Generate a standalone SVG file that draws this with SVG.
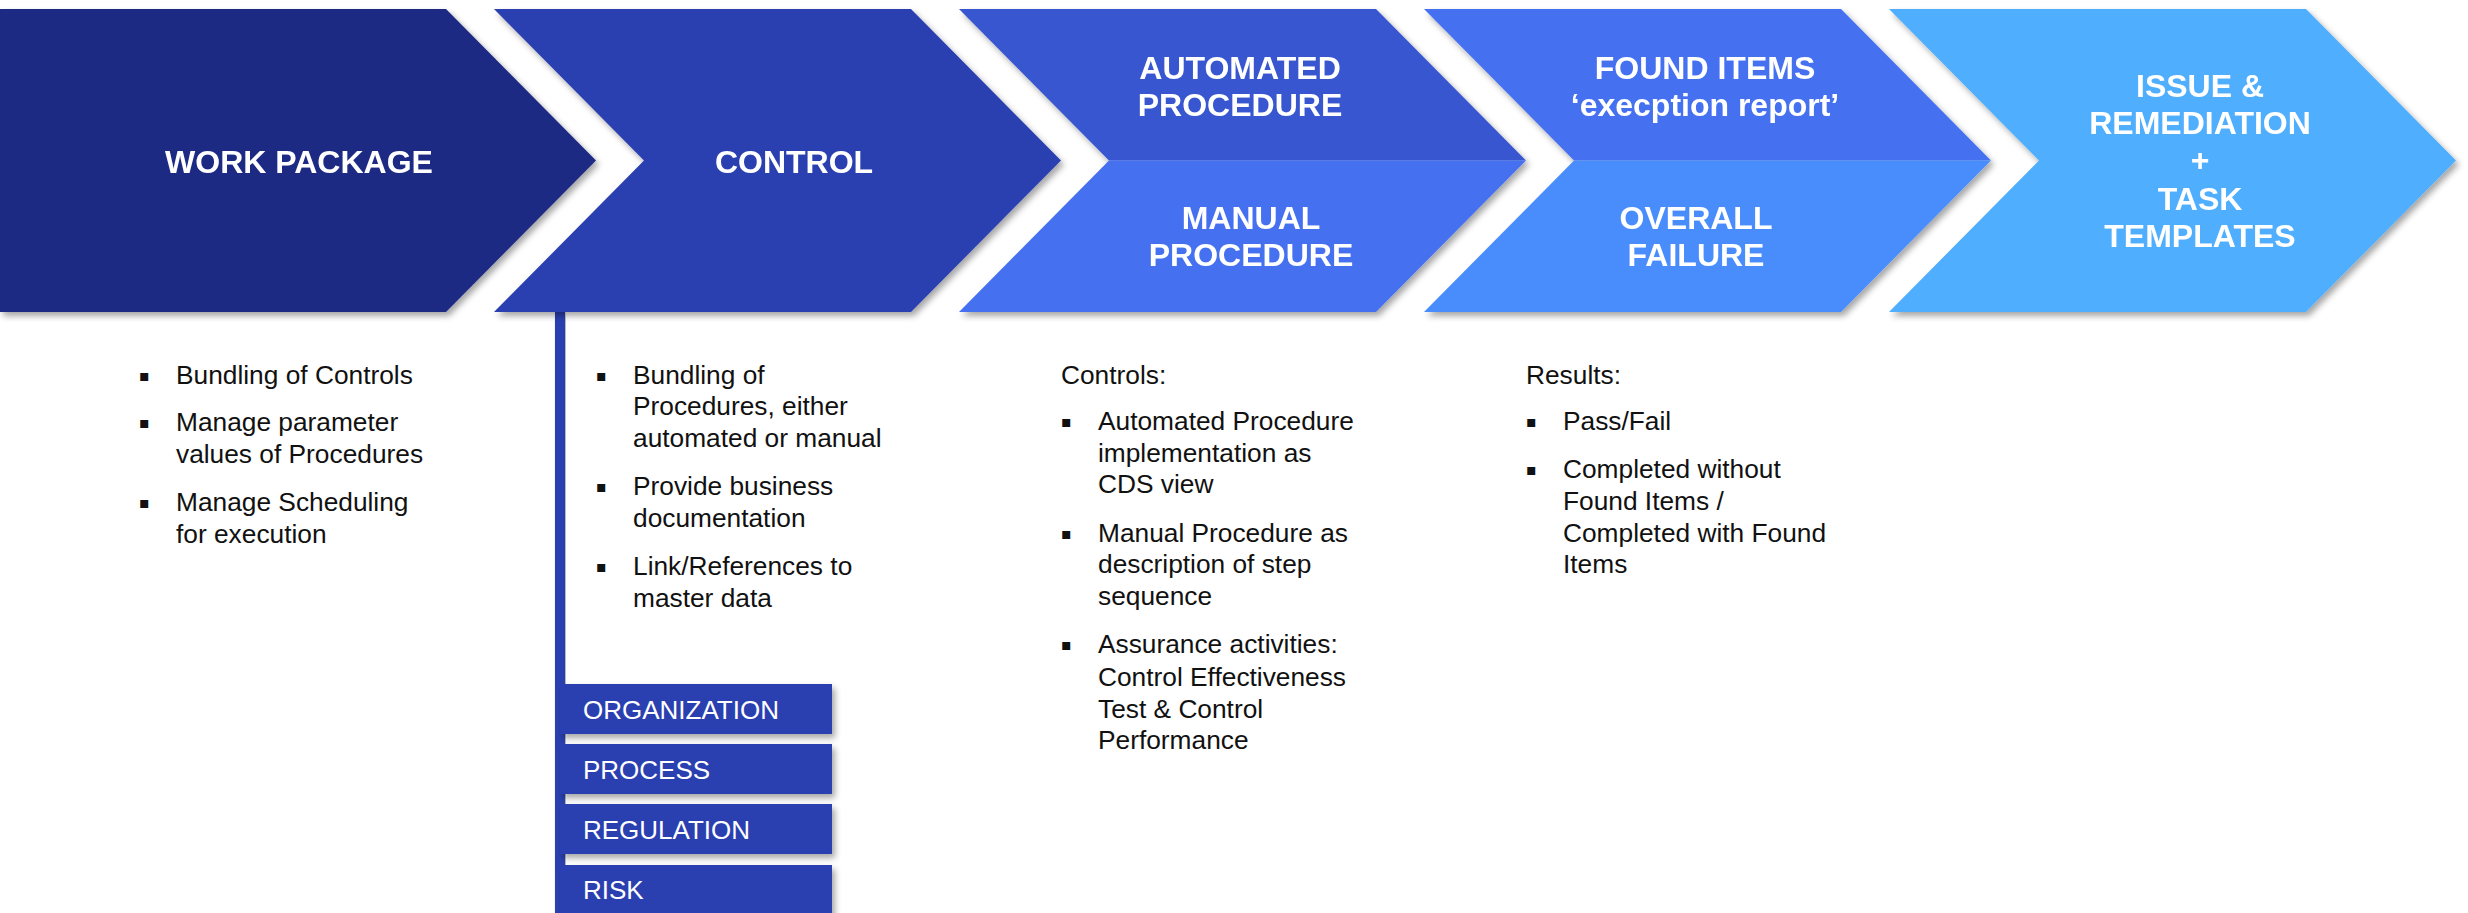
<svg xmlns="http://www.w3.org/2000/svg" width="2468" height="913" viewBox="0 0 2468 913">
<defs>
<filter id="sh" x="-5%" y="-10%" width="115%" height="130%">
<feDropShadow dx="3" dy="4" stdDeviation="3" flood-color="#000" flood-opacity="0.35"/>
</filter>
</defs>
<style>
.ht{font-family:"Liberation Sans",Arial,sans-serif;font-weight:bold;font-size:32px;fill:#fff;text-anchor:middle}
.bt{font-family:"Liberation Sans",Arial,sans-serif;font-size:26.3px;fill:#111}
.bl{font-family:"DejaVu Sans",sans-serif;font-size:16px;fill:#111}
.tg{font-family:"Liberation Sans",Arial,sans-serif;font-size:26px;fill:#fff}
.tr{fill:#2c40b0;filter:url(#sh)}
</style>
<rect width="2468" height="913" fill="#fff"/>

<g id="connectors">
<rect x="555" y="310" width="10" height="603" fill="#2c40b0" filter="url(#sh)"/>
</g>

<g id="work-package" filter="url(#sh)">
<polygon points="0,9 446,9 596,160.5 446,312 0,312" fill="#1e2a84"/>
<text class="ht" x="299" y="173">WORK PACKAGE</text>
</g>

<g id="control" filter="url(#sh)">
<polygon points="494,9 911,9 1061,160.5 911,312 494,312 644,160.5" fill="#2c40b0"/>
<text class="ht" x="794" y="173">CONTROL</text>
</g>

<g id="procedure" filter="url(#sh)">
<polygon points="959,9 1376,9 1526,160.5 1109,160.5" fill="#3756d0"/>
<polygon points="1109,160.5 1526,160.5 1376,312 959,312" fill="#4570f0"/>
<text class="ht" x="1240" y="79">AUTOMATED</text>
<text class="ht" x="1240" y="116">PROCEDURE</text>
<text class="ht" x="1251" y="229">MANUAL</text>
<text class="ht" x="1251" y="266">PROCEDURE</text>
</g>

<g id="found-items" filter="url(#sh)">
<polygon points="1424,9 1841,9 1991,160.5 1574,160.5" fill="#4571f1"/>
<polygon points="1574,160.5 1991,160.5 1841,312 1424,312" fill="#4a8dfc"/>
<text class="ht" x="1705" y="79">FOUND ITEMS</text>
<text class="ht" x="1705" y="116">‘execption report’</text>
<text class="ht" x="1696" y="229">OVERALL</text>
<text class="ht" x="1696" y="266">FAILURE</text>
</g>

<g id="issue-remediation" filter="url(#sh)">
<polygon points="1889,9 2306,9 2456,160.5 2306,312 1889,312 2039,160.5" fill="#50aefd"/>
<text class="ht" x="2200" y="97">ISSUE &amp;</text>
<text class="ht" x="2200" y="134">REMEDIATION</text>
<text class="ht" x="2200" y="171">+</text>
<text class="ht" x="2200" y="210">TASK</text>
<text class="ht" x="2200" y="247">TEMPLATES</text>
</g>

<g id="work-package-notes">
<text class="bl" x="139" y="381">▪</text>
<text class="bt" x="176" y="384">Bundling of Controls</text>
<text class="bl" x="139" y="428">▪</text>
<text class="bt" x="176" y="431">Manage parameter</text>
<text class="bt" x="176" y="463">values of Procedures</text>
<text class="bl" x="139" y="508">▪</text>
<text class="bt" x="176" y="511">Manage Scheduling</text>
<text class="bt" x="176" y="543">for execution</text>
</g>

<g id="control-notes">
<text class="bl" x="596" y="381">▪</text>
<text class="bt" x="633" y="384">Bundling of</text>
<text class="bt" x="633" y="415">Procedures, either</text>
<text class="bt" x="633" y="447">automated or manual</text>
<text class="bl" x="596" y="492">▪</text>
<text class="bt" x="633" y="495">Provide business</text>
<text class="bt" x="633" y="527">documentation</text>
<text class="bl" x="596" y="572">▪</text>
<text class="bt" x="633" y="575">Link/References to</text>
<text class="bt" x="633" y="607">master data</text>
</g>

<g id="tag-organization">
<rect class="tr" x="560" y="684" width="272" height="50"/>
<text class="tg" x="583" y="719">ORGANIZATION</text>
</g>
<g id="tag-process">
<rect class="tr" x="560" y="744" width="272" height="50"/>
<text class="tg" x="583" y="779">PROCESS</text>
</g>
<g id="tag-regulation">
<rect class="tr" x="560" y="804" width="272" height="50"/>
<text class="tg" x="583" y="839">REGULATION</text>
</g>
<g id="tag-risk">
<rect class="tr" x="560" y="865" width="272" height="60"/>
<text class="tg" x="583" y="899">RISK</text>
</g>

<g id="procedure-notes">
<text class="bt" x="1061" y="384">Controls:</text>
<text class="bl" x="1061" y="427">▪</text>
<text class="bt" x="1098" y="430">Automated Procedure</text>
<text class="bt" x="1098" y="462">implementation as</text>
<text class="bt" x="1098" y="493">CDS view</text>
<text class="bl" x="1061" y="539">▪</text>
<text class="bt" x="1098" y="542">Manual Procedure as</text>
<text class="bt" x="1098" y="573">description of step</text>
<text class="bt" x="1098" y="605">sequence</text>
<text class="bl" x="1061" y="650">▪</text>
<text class="bt" x="1098" y="653">Assurance activities:</text>
<text class="bt" x="1098" y="686">Control Effectiveness</text>
<text class="bt" x="1098" y="718">Test &amp; Control</text>
<text class="bt" x="1098" y="749">Performance</text>
</g>

<g id="results-notes">
<text class="bt" x="1526" y="384">Results:</text>
<text class="bl" x="1526" y="427">▪</text>
<text class="bt" x="1563" y="430">Pass/Fail</text>
<text class="bl" x="1526" y="475">▪</text>
<text class="bt" x="1563" y="478">Completed without</text>
<text class="bt" x="1563" y="510">Found Items /</text>
<text class="bt" x="1563" y="542">Completed with Found</text>
<text class="bt" x="1563" y="573">Items</text>
</g>
</svg>
